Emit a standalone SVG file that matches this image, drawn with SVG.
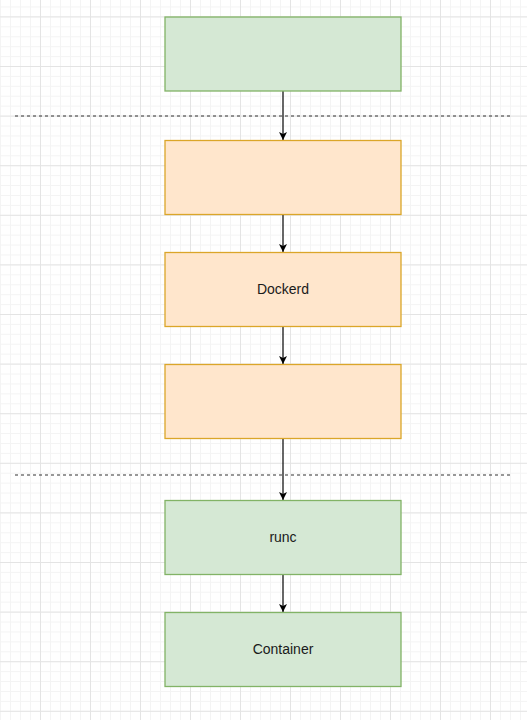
<svg xmlns="http://www.w3.org/2000/svg" width="527" height="720" viewBox="0 0 527 720">
  <defs>
    <pattern id="minor" patternUnits="userSpaceOnUse" x="0" y="6.48" width="10" height="9.92">
      <path d="M0 0.5H10M0.5 0V9.92" fill="none" stroke="#f4f4f4" stroke-width="1"/>
    </pattern>
    <pattern id="major" patternUnits="userSpaceOnUse" x="40" y="16.4" width="50" height="49.6">
      <path d="M0 0.5H50M0.5 0V49.6" fill="none" stroke="#e4e4e4" stroke-width="1"/>
    </pattern>
    <marker id="arrow" viewBox="0 0 10 10" refX="10" refY="5" markerWidth="8" markerHeight="8" markerUnits="userSpaceOnUse" orient="auto">
      <path d="M0 0L10 5L0 10L2.5 5Z" fill="#000"/>
    </marker>
    <style>
      .green { fill: #d5e8d4; stroke: #82b366; stroke-width: 1.3; }
      .orange { fill: #ffe6cc; stroke: #dba629; stroke-width: 1.3; }
      .label { font-family: "Liberation Sans", Arial, sans-serif; font-size: 14px; fill: #1a1a1a; text-anchor: middle; dominant-baseline: central; }
      .edge { stroke: #000; stroke-width: 1.2; fill: none; marker-end: url(#arrow); }
      .sep { stroke: #333; stroke-width: 1.2; stroke-dasharray: 3 3; fill: none; }
    </style>
  </defs>
  <rect width="527" height="720" fill="#fff"/>
  <rect width="527" height="720" fill="url(#minor)"/>
  <rect width="527" height="720" fill="url(#major)"/>

  <g id="separators">
    <line class="sep" x1="15" y1="116" x2="512" y2="116"/>
    <line class="sep" x1="15" y1="475" x2="512" y2="475"/>
  </g>

  <g id="connectors">
    <line class="edge" x1="283" y1="91" x2="283" y2="140"/>
    <line class="edge" x1="283" y1="215" x2="283" y2="252"/>
    <line class="edge" x1="283" y1="326" x2="283" y2="364"/>
    <line class="edge" x1="283" y1="438" x2="283" y2="500"/>
    <line class="edge" x1="283" y1="574" x2="283" y2="612"/>
  </g>

  <g id="node1">
    <rect class="green" x="165" y="17" width="236" height="74"/>
  </g>
  <g id="node2">
    <rect class="orange" x="165" y="140.5" width="236" height="74"/>
  </g>
  <g id="node-dockerd">
    <rect class="orange" x="165" y="252.5" width="236" height="74"/>
    <text class="label" x="283" y="289">Dockerd</text>
  </g>
  <g id="node4">
    <rect class="orange" x="165" y="364.5" width="236" height="74"/>
  </g>
  <g id="node-runc">
    <rect class="green" x="165" y="500.5" width="236" height="74"/>
    <text class="label" x="283" y="537">runc</text>
  </g>
  <g id="node-container">
    <rect class="green" x="165" y="612.5" width="236" height="74"/>
    <text class="label" x="283" y="649">Container</text>
  </g>
</svg>
